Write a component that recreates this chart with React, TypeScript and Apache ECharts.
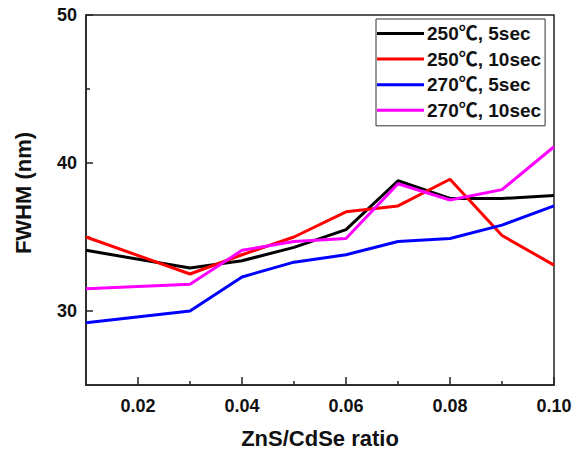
import React, { useEffect, useRef } from "react";
import * as echarts from "echarts";

const ratios = [0.01, 0.03, 0.04, 0.05, 0.06, 0.07, 0.08, 0.09, 0.1];
const seriesNames = ["250℃, 5sec", "250℃, 10sec", "270℃, 5sec", "270℃, 10sec"];
const fwhm250_5 = [34.1, 32.9, 33.4, 34.3, 35.5, 38.8, 37.6, 37.6, 37.8];
const fwhm250_10 = [35.0, 32.5, 33.8, 35.0, 36.7, 37.1, 38.9, 35.1, 33.1];
const fwhm270_5 = [29.2, 30.0, 32.3, 33.3, 33.8, 34.7, 34.9, 35.8, 37.1];
const fwhm270_10 = [31.5, 31.8, 34.1, 34.7, 34.9, 38.6, 37.5, 38.2, 41.1];
const xMajorTicks = [0.02, 0.04, 0.06, 0.08, 0.1];
const xMinorTicks = [0.03, 0.05, 0.07, 0.09];
const yMajorTicks = [30, 40, 50];
const yMinorTicks = [35, 45];
const colors = ["#000000", "#ff0000", "#0000ff", "#ff00ff"];

const FONT = "'Liberation Sans', Arial, 'Noto Sans CJK SC', sans-serif";

export default function App() {
  const ref = useRef<HTMLDivElement>(null);
  useEffect(() => {
    if (!ref.current) return;
    const chart = echarts.init(ref.current, undefined, { renderer: "svg" });
    const allData = [fwhm250_5, fwhm250_10, fwhm270_5, fwhm270_10];
    const axisColor = "#222";
    chart.setOption({
      animation: false,
      backgroundColor: "#fff",
      textStyle: { fontFamily: FONT },
      grid: {
        left: 86,
        right: 30,
        top: 15,
        bottom: 64,
        show: true,
        borderColor: axisColor,
        borderWidth: 1.5,
        backgroundColor: "transparent",
      },
      legend: {
        orient: "vertical",
        left: 376,
        top: 19,
        padding: [5, 4, 6, 1],
        icon: "rect",
        itemWidth: 47,
        itemHeight: 3,
        itemGap: 6.6,
        align: "left",
        borderColor: "#333",
        borderWidth: 1,
        backgroundColor: "#fff",
        data: seriesNames,
        textStyle: {
          fontFamily: FONT,
          fontWeight: "bold",
          fontSize: 19,
          color: "#111",
          lineHeight: 18,
          padding: [0, 0, 0, -2],
        },
      },
      xAxis: [
        {
          type: "value",
          min: 0.01,
          max: 0.1,
          name: "ZnS/CdSe ratio",
          nameLocation: "middle",
          nameGap: 42,
          nameTextStyle: { fontFamily: FONT, fontWeight: "bold", fontSize: 22, color: "#111" },
          axisLine: { show: true, lineStyle: { color: axisColor, width: 1.5 } },
          axisTick: {
            show: true,
            inside: true,
            length: 8,
            customValues: xMajorTicks,
            lineStyle: { color: axisColor, width: 1.5 },
          },
          axisLabel: {
            show: true,
            customValues: xMajorTicks,
            margin: 12,
            fontFamily: FONT,
            fontWeight: "bold",
            fontSize: 18,
            color: "#111",
            formatter: (v: number) => v.toFixed(2),
          },
          splitLine: { show: false },
        },
        {
          type: "value",
          min: 0.01,
          max: 0.1,
          position: "bottom",
          axisLine: { show: false },
          axisTick: {
            show: true,
            inside: true,
            length: 4,
            customValues: xMinorTicks,
            lineStyle: { color: axisColor, width: 1.5 },
          },
          axisLabel: { show: false },
          splitLine: { show: false },
        },
      ],
      yAxis: [
        {
          type: "value",
          min: 25,
          max: 50,
          name: "FWHM (nm)",
          nameLocation: "middle",
          nameGap: 52,
          nameTextStyle: {
            fontFamily: FONT,
            fontWeight: "bold",
            fontSize: 22,
            color: "#111",
            padding: [0, 0, 0, 14],
          },
          axisLine: { show: true, lineStyle: { color: axisColor, width: 1.5 } },
          axisTick: {
            show: true,
            inside: true,
            length: 7,
            customValues: yMajorTicks,
            lineStyle: { color: axisColor, width: 1.5 },
          },
          axisLabel: {
            show: true,
            customValues: yMajorTicks,
            margin: 9,
            fontFamily: FONT,
            fontWeight: "bold",
            fontSize: 18,
            color: "#111",
          },
          splitLine: { show: false },
        },
        {
          type: "value",
          min: 25,
          max: 50,
          position: "left",
          axisLine: { show: false },
          axisTick: {
            show: true,
            inside: true,
            length: 4,
            customValues: yMinorTicks,
            lineStyle: { color: axisColor, width: 1.5 },
          },
          axisLabel: { show: false },
          splitLine: { show: false },
        },
      ],
      series: seriesNames.map((name, i) => ({
        name,
        type: "line",
        xAxisIndex: 0,
        yAxisIndex: 0,
        symbol: "none",
        showSymbol: false,
        color: colors[i],
        lineStyle: { color: colors[i], width: 3 },
        data: ratios.map((x, j) => [x, allData[i][j]]),
      })),
    });
    return () => chart.dispose();
  }, []);
  return (
    <div
      ref={ref}
      style={{ position: "fixed", left: 0, top: 0, width: 584, height: 454 }}
    />
  );
}
